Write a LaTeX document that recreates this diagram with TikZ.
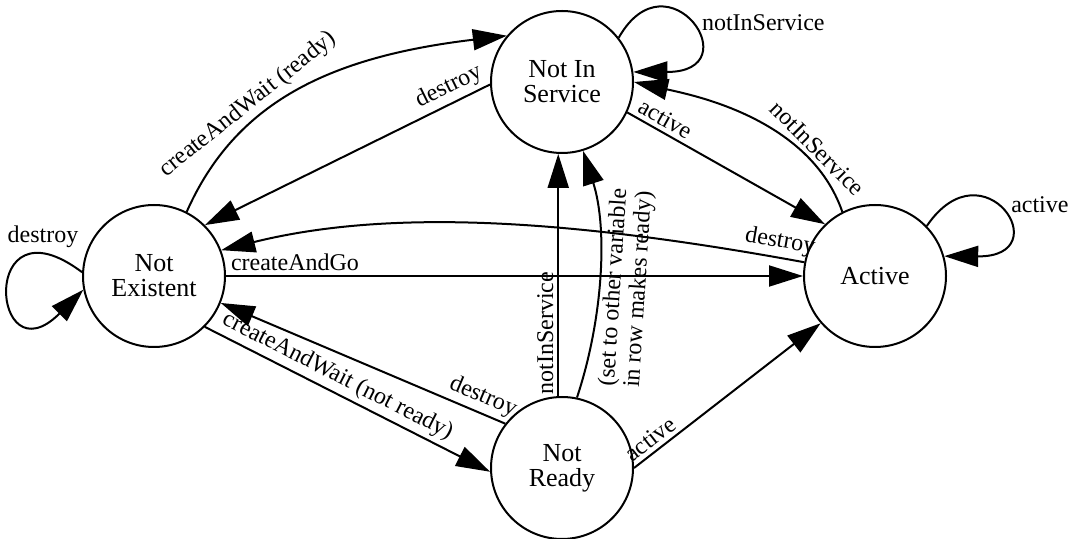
\documentclass[tikz,border=0pt]{standalone}
\usepackage{fontspec}
\setmainfont{Liberation Serif}
\usetikzlibrary{arrows.meta}
\tikzset{
  stnode/.style={draw, circle, line width=1pt, minimum size=71pt, inner sep=0pt,
    align=center, font=\fontsize{13}{12.5}\selectfont},
  lbl/.style={font=\fontsize{12}{12.5}\selectfont, inner sep=2pt},
  tr/.style={line width=1pt, -{Triangle[length=17pt,width=10.5pt]}}
}
\begin{document}
\begin{tikzpicture}[x=0.5pt,y=0.5pt]
  \useasboundingbox (0,0) rectangle (1072,-539);
  \node[stnode] (nis) at (562,-82)  {Not In\\Service};
  \node[stnode] (ne)  at (154,-276) {Not\\Existent};
  \node[stnode] (act) at (875,-276) {Active};
  \node[stnode] (nr)  at (562,-468) {Not\\Ready};
  \draw[tr] (ne.63) .. controls (235,-103) and (328,-57) .. node[lbl, pos=0.36, sloped, above] {createAndWait (ready)} (nis.140);
  \draw[tr] (nis.182) -- node[lbl, pos=0.12, sloped, above] {destroy} (ne.45);
  \draw[tr] (nis.38) .. controls (668,49) and (752,-72) .. node[lbl, pos=0.5, right=4pt] {notInService} (nis.8);
  \draw[tr] (nis.-25) -- node[lbl, pos=0.16, sloped, above] {active} (act.134);
  \draw[tr] (act.117) .. controls (810,-118) and (692,-95) .. node[lbl, pos=0.23, sloped, above] {notInService} (nis.0);
  \draw[tr] (act.44) .. controls (984,-142) and (1060,-257) .. node[lbl, pos=0.45, right=5pt] {active} (act.16);
  \draw[tr] (act.169) .. controls (579,-221) and (395,-207) .. node[lbl, pos=0.04, sloped, above] {destroy} (ne.21);
  \draw[tr] (ne) -- node[lbl, pos=0, anchor=south west] {createAndGo} (act);
  \draw[tr] (ne.177) .. controls (-22,-194) and (-9,-382) .. node[lbl, pos=0.15, above] {destroy} (ne.191);
  \draw[tr] (ne.-45) -- node[lbl, pos=0.44, sloped, above] {createAndWait (not ready)} (nr.183);
  \draw[tr] (nr.142) -- node[lbl, pos=0.1, sloped, above] {destroy} (ne.-22);
  \draw[tr] (nr.93) -- node[lbl, pos=0.26, sloped, above] {notInService} (nis.-93);
  \draw[tr] (nr.78) .. controls (603,-319) and (608,-229) .. node[lbl, pos=0.45, sloped, below, align=center] {(set to other variable\\in row makes ready)} (nis.-73);
  \draw[tr] (nr.0) -- node[lbl, pos=0.13, sloped, above] {active} (act.221);
\end{tikzpicture}
\end{document}
